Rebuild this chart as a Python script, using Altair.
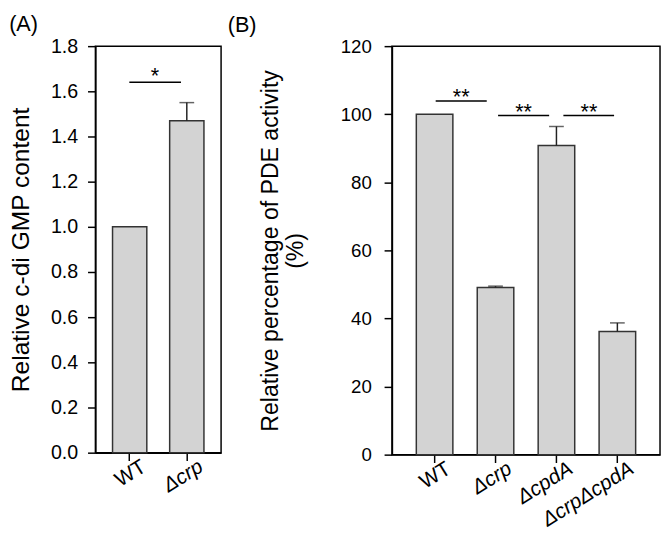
import altair as alt
import pandas as pd

FONT = "Liberation Sans"

# Panel A data
a_strains = ["WT", "Δcrp"]
a_values = [1.0, 1.47]
a_err_top = [1.0, 1.55]

# Panel B data
b_strains = ["WT", "Δcrp", "ΔcpdA", "ΔcrpΔcpdA"]
b_values = [100.0, 49.1, 90.8, 36.2]
b_err_top = [100.0, 49.5, 96.4, 38.7]

# significance annotations
a_sig = [("WT", "Δcrp", 1.64, "*")]
b_sig = [("WT", "Δcrp", 103.9, "**"),
         ("Δcrp", "ΔcpdA", 99.6, "**"),
         ("ΔcpdA", "ΔcrpΔcpdA", 99.6, "**")]
# band anchor fractions (start, end)
a_sig_pos = [(0.49, 0.33)]
b_sig_pos = [(0.53, 0.26), (0.57, 0.30), (0.69, 0.41)]

label_style = {"condition": {"test": "datum.value == 'WT'", "value": "normal"}, "value": "italic"}


def panel(strains, values, err_top, sig, sig_pos, ydomain, yticks, yfmt, ytitle,
          width, height, ptitle, title_offset, title_dx, pad_outer, text_shift,
          ylabel_size, ytitle_size, title_pad, label_pad, star_dx):
    df = pd.DataFrame({"strain": strains, "value": values, "err": err_top})
    xscale = alt.Scale(domain=strains, paddingInner=0.4, paddingOuter=pad_outer)
    xaxis = alt.Axis(title=None, labelAngle=-32, labelAlign="right", labelBaseline="top",
                     labelFontSize=21, labelFont=FONT, labelFontStyle=label_style,
                     tickSize=8, tickColor="black", tickWidth=1.5, domainColor="black",
                     domainWidth=1.5, labelColor="black", labelPadding=-5, labelOffset=9)
    yscale = alt.Scale(domain=ydomain, nice=False, zero=True)
    yaxis = alt.Axis(title=ytitle, values=yticks, format=yfmt, labelFontSize=ylabel_size,
                     labelFont=FONT, titleFontSize=ytitle_size, titleFont=FONT,
                     titleFontWeight="normal", titleColor="black",
                     labelColor="black", tickSize=8, tickColor="black", tickWidth=1.5,
                     domainColor="black", domainWidth=1.5, grid=False, titlePadding=title_pad,
                     labelPadding=label_pad)
    base = alt.Chart(df)
    x = alt.X("strain:N", scale=xscale, axis=xaxis, sort=strains)
    bars = base.mark_bar(fill="#d3d3d3", stroke="#333333", strokeWidth=1.5).encode(
        x=x, y=alt.Y("value:Q", scale=yscale, axis=yaxis))
    errdf = df[df["err"] > df["value"]]
    eb = alt.Chart(errdf)
    err_rule = eb.mark_rule(color="#222222", strokeWidth=1.5).encode(
        x=alt.X("strain:N", sort=strains), y="value:Q", y2="err:Q")
    err_cap = eb.mark_tick(color="#222222", thickness=1.5, size=15, orient="horizontal").encode(
        x=alt.X("strain:N", sort=strains), y="err:Q")
    layers = [bars, err_rule, err_cap]
    for (s, e, yv, lab), (bs, be) in zip(sig, sig_pos):
        sdf = pd.DataFrame({"s": [s], "e": [e], "y": [yv], "ty": [yv + text_shift], "lab": [lab]})
        sc = alt.Chart(sdf)
        layers.append(sc.mark_rule(color="black", strokeWidth=1.5).encode(
            x=alt.X("s:N", bandPosition=bs), x2=alt.X2("e:N", bandPosition=be), y="y:Q"))
        layers.append(sc.mark_text(font=FONT, fontSize=22, baseline="alphabetic", align="center",
                                   color="black", dx=star_dx).encode(
            x=alt.X("s:N", bandPosition=bs), y="ty:Q", text="lab:N"))
    return alt.layer(*layers).properties(
        width=width, height=height,
        title=alt.TitleParams(ptitle, anchor="start", frame="bounds", fontSize=22, font=FONT,
                              fontWeight="normal", color="black", offset=title_offset, dx=title_dx))


pa = panel(a_strains, a_values, a_err_top, a_sig, a_sig_pos, [0, 1.8],
           [0, 0.2, 0.4, 0.6, 0.8, 1.0, 1.2, 1.4, 1.6, 1.8], ".1f",
           "Relative c-di GMP content", 128, 414, "(A)", 0, 0, 0.3, -0.005,
           20, 25, 17, 10, 26)
pb = panel(b_strains, b_values, b_err_top, b_sig, b_sig_pos, [0, 120],
           [0, 20, 40, 60, 80, 100, 120], "d",
           ["Relative percentage of PDE activity", "(%)"], 273, 416, "(B)", 0, -32, 0.4, -1.0,
           19, 23.5, 33, 13, 26)

chart = alt.hconcat(pa, pb, spacing=5).configure(padding=0).configure_view(
    stroke="black", strokeWidth=1.5).configure_axis(labelFont=FONT)

chart.save("out.html", embed_options={"renderer": "svg", "actions": False})
